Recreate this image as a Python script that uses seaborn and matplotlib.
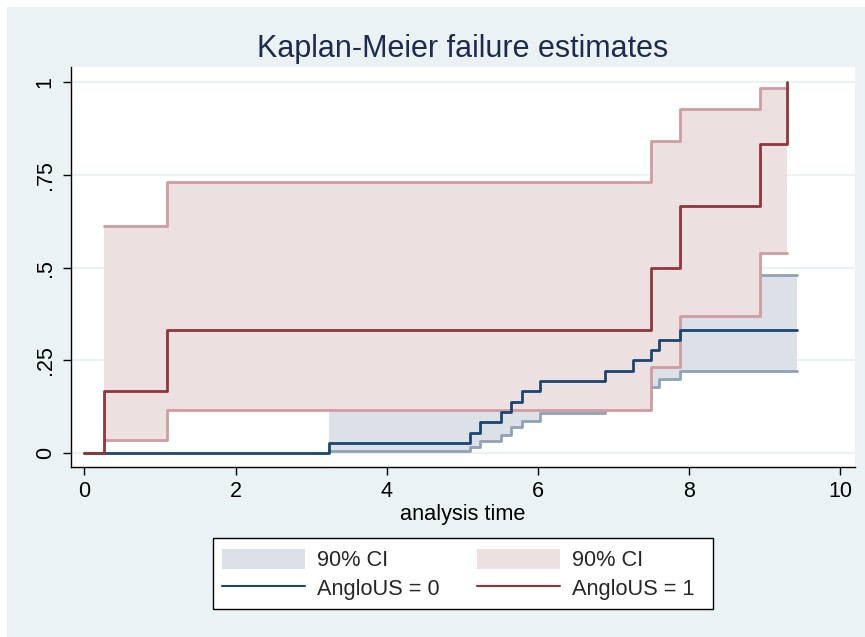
import numpy as np
import pandas as pd
import seaborn as sns
import matplotlib
matplotlib.use("Agg")
import matplotlib.pyplot as plt
from matplotlib.patches import Patch, Rectangle
from matplotlib.lines import Line2D

# ---------------- data ----------------
# AngloUS = 0
g0_times = [3.23, 5.10, 5.24, 5.51, 5.64, 5.79, 6.03, 6.89, 7.26, 7.50, 7.60, 7.88]
g0_fail = [1/36, 2/36, 3/36, 4/36, 5/36, 6/36, 7/36, 8/36, 9/36, 10/36, 11/36, 12/36]
g0_lower = [0.006, 0.018, 0.032, 0.049, 0.070, 0.088, 0.109, 0.127, 0.150, 0.178, 0.199, 0.222]
g0_upper = [0.14, 0.17, 0.20, 0.23, 0.26, 0.29, 0.32, 0.35, 0.38, 0.41, 0.44, 0.48]
g0_end = 9.43

# AngloUS = 1
g1_times = [0.26, 1.09, 7.50, 7.88, 8.94, 9.29]
g1_fail = [1/6, 2/6, 3/6, 4/6, 5/6, 1.0]
g1_lower = [0.036, 0.118, 0.233, 0.371, 0.540]
g1_upper = [0.613, 0.730, 0.840, 0.926, 0.985]

x_ticks = [0, 2, 4, 6, 8, 10]
y_ticks = [0, 0.25, 0.5, 0.75, 1]
y_ticklabels = ["0", ".25", ".5", ".75", "1"]

title = "Kaplan-Meier failure estimates"
xlabel = "analysis time"
ci_label = "90% CI"
labels = ["AngloUS = 0", "AngloUS = 1"]

# ---------------- styling ----------------
sns.set_theme(style="white")
plt.rcParams["font.family"] = ["Liberation Sans", "DejaVu Sans"]

BG = "#EAF2F3"
BLUE = "#1A476F"
RED = "#90353B"
BLUE_FILL = "#DCE1E8"
RED_FILL = "#ECE0E1"
BLUE_EDGE = "#8FA2B6"
RED_EDGE = "#CE9CA1"

W, H = 865, 637
fig = plt.figure(figsize=(W / 100, H / 100), dpi=100)
fig.patch.set_facecolor("white")
fig.patches.append(Rectangle((7 / W, 0), 1, 1 - 7 / H, transform=fig.transFigure,
                             facecolor=BG, edgecolor="none", zorder=-10))

ax = fig.add_axes([71 / W, 1 - 466.7 / H, (855 - 71) / W, (466.7 - 67) / H])
ax.set_facecolor("white")

# grid lines
for yv in y_ticks:
    ax.axhline(yv, color=BG, lw=1.6, zorder=0.5)

# CI bands
def band(times, lo, up, end):
    x = list(times) + [end]
    return x, list(lo) + [lo[-1]], list(up) + [up[-1]]

bx, blo, bup = band(g0_times, g0_lower, g0_upper, g0_end)
ax.fill_between(bx, blo, bup, step="post", color=BLUE_FILL, lw=0, zorder=1)
for arr in (blo, bup):
    ax.plot(bx, arr, drawstyle="steps-post", color=BLUE_EDGE, lw=2, zorder=1.5)

rx, rlo, rup = band(g1_times[:-1], g1_lower, g1_upper, g1_times[-1])
ax.fill_between(rx, rlo, rup, step="post", color=RED_FILL, lw=0, zorder=2)
for arr in (rlo, rup):
    ax.plot(rx, arr, drawstyle="steps-post", color=RED_EDGE, lw=2, zorder=2.5)

# estimate lines
d0 = pd.DataFrame({"t": [0] + g0_times + [g0_end], "f": [0] + g0_fail + [g0_fail[-1]]})
d1 = pd.DataFrame({"t": [0] + g1_times, "f": [0] + g1_fail})
sns.lineplot(data=d0, x="t", y="f", ax=ax, color=BLUE, lw=2, drawstyle="steps-post",
             estimator=None, sort=False, zorder=3)
sns.lineplot(data=d1, x="t", y="f", ax=ax, color=RED, lw=2, drawstyle="steps-post",
             estimator=None, sort=False, zorder=3.5)

ax.set_xlim(-0.176, 10.194)
ax.set_ylim(-0.036, 1.0404)
ax.set_xticks(x_ticks)
ax.set_xticklabels([str(v) for v in x_ticks])
ax.set_yticks(y_ticks)
ax.set_yticklabels(y_ticklabels, rotation=90, va="center")
ax.tick_params(axis="both", which="major", length=6, width=1, color="black",
               labelsize=15.5, labelcolor="black", direction="out")
ax.tick_params(axis="x", pad=4)
ax.tick_params(axis="y", pad=5)
ax.tick_params(bottom=True, left=True)
for s in ["top", "right"]:
    ax.spines[s].set_visible(False)
for s in ["left", "bottom"]:
    ax.spines[s].set_color("black")
    ax.spines[s].set_linewidth(1)
ax.set_xlabel("")
ax.set_ylabel("")

fig.text(463 / W, 1 - 520 / H, xlabel, ha="center", va="baseline", fontsize=15.7, color="black")
fig.text(462.5 / W, 1 - 56.7 / H, title, ha="center", va="baseline", fontsize=22, color="#1E2B50")

# legend frame drawn separately so its box matches the reference
fig.patches.append(Rectangle((213 / W, 1 - 609 / H), (713 - 213) / W, (609 - 538) / H,
                             transform=fig.transFigure, facecolor="white",
                             edgecolor="black", lw=1, zorder=4))
handles = [Patch(facecolor=BLUE_FILL, edgecolor="none"),
           Line2D([0], [0], color=BLUE, lw=1.5),
           Patch(facecolor=RED_FILL, edgecolor="none"),
           Line2D([0], [0], color=RED, lw=1.5)]
leg_labels = [ci_label, labels[0], ci_label, labels[1]]
leg = fig.legend(handles, leg_labels, ncol=2, loc="center left",
                 bbox_to_anchor=(222 / W, 1 - 574.5 / H), fontsize=15.7,
                 frameon=False, handlelength=3.8, handleheight=1.0, handletextpad=0.55,
                 columnspacing=1.72, labelspacing=0.3, borderpad=0.0, borderaxespad=0.0)
leg.set_zorder(5)

fig.savefig("out.png", dpi=100, facecolor=fig.get_facecolor())
